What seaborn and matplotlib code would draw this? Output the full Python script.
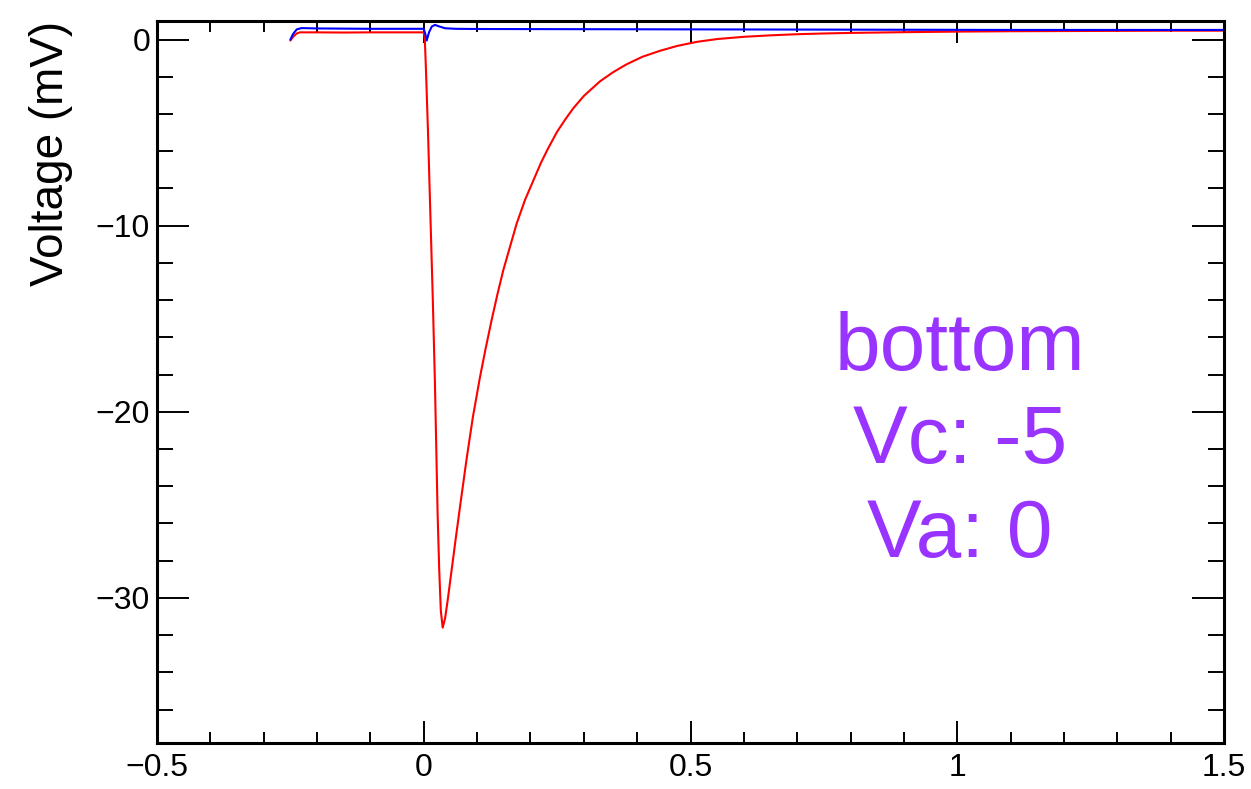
import matplotlib
matplotlib.use("Agg")
import matplotlib.pyplot as plt
import seaborn as sns
import pandas as pd
from matplotlib.ticker import MultipleLocator, FuncFormatter

# ---- data ----
red_time = [-0.250, -0.245, -0.238, -0.232, -0.20, -0.15, -0.10, -0.05, 0.0,
            0.002, 0.004, 0.008, 0.0125, 0.017, 0.021, 0.0235, 0.026, 0.029,
            0.032, 0.0355, 0.040, 0.045, 0.050, 0.055, 0.060, 0.068, 0.080,
            0.092, 0.105, 0.116, 0.127, 0.138, 0.149, 0.162, 0.174, 0.190,
            0.205, 0.220, 0.233, 0.250, 0.265, 0.280, 0.300, 0.330, 0.355,
            0.380, 0.410, 0.443, 0.475, 0.512, 0.55, 0.60, 0.65, 0.70, 0.75,
            0.80, 0.90, 1.0, 1.1, 1.2, 1.3, 1.4, 1.5]
red_volt = [-0.05, 0.15, 0.33, 0.39, 0.39, 0.38, 0.39, 0.39, 0.39,
            0.0, -1.5, -5.0, -9.5, -14.0, -18.5, -22.0, -25.5, -28.5,
            -30.7, -31.6, -31.1, -30.1, -29.0, -27.9, -26.8, -25.1, -22.6,
            -20.3, -18.2, -16.6, -15.1, -13.7, -12.4, -11.1, -9.9, -8.6,
            -7.6, -6.6, -5.85, -4.95, -4.3, -3.7, -3.03, -2.25, -1.75,
            -1.33, -0.92, -0.60, -0.34, -0.12, 0.03, 0.15, 0.23, 0.29, 0.33,
            0.36, 0.40, 0.43, 0.45, 0.46, 0.47, 0.48, 0.48]

blue_time = [-0.250, -0.245, -0.238, -0.229, -0.20, -0.10, 0.0, 0.003, 0.0055,
             0.010, 0.015, 0.021, 0.030, 0.040, 0.06, 0.1, 0.3, 0.5, 0.7, 0.9,
             1.1, 1.3, 1.5]
blue_volt = [0.0, 0.30, 0.55, 0.62, 0.60, 0.58, 0.58, 0.30, -0.05,
             0.40, 0.70, 0.79, 0.70, 0.61, 0.58, 0.57, 0.56, 0.55, 0.54, 0.53,
             0.52, 0.52, 0.52]

annotation_lines = ["bottom", "Vc: -5", "Va: 0"]
y_label = "Voltage (mV)"

# ---- style ----
sns.set_style("white")
plt.rcParams['font.family'] = ['Liberation Sans', 'DejaVu Sans']
plt.rcParams['axes.unicode_minus'] = True
for k in ("text.color", "axes.labelcolor", "xtick.color", "ytick.color",
          "axes.edgecolor"):
    plt.rcParams[k] = "black"

fig = plt.figure(figsize=(12.51, 7.89), dpi=100)
ax = fig.add_axes([157/1251, 1 - 743/789, (1224 - 157)/1251, (743 - 21)/789])

df_red = pd.DataFrame({"t": red_time, "v": red_volt})
df_blue = pd.DataFrame({"t": blue_time, "v": blue_volt})
sns.lineplot(data=df_red, x="t", y="v", color="#FF0000", lw=1.5, estimator=None,
             sort=False, ax=ax)
sns.lineplot(data=df_blue, x="t", y="v", color="#0000FF", lw=1.5, estimator=None,
             sort=False, ax=ax)

ax.set_xlim(-0.5, 1.5)
ax.set_ylim(-37.8, 1.0)

ax.xaxis.set_major_locator(MultipleLocator(0.5))
ax.xaxis.set_minor_locator(MultipleLocator(0.1))
ax.yaxis.set_major_locator(MultipleLocator(10))
ax.yaxis.set_minor_locator(MultipleLocator(2))

def fmt(v, pos):
    if abs(v) < 1e-9:
        return "0"
    return ("%g" % v).replace("-", "\u2212")

ax.xaxis.set_major_formatter(FuncFormatter(fmt))
ax.yaxis.set_major_formatter(FuncFormatter(fmt))

for sp in ax.spines.values():
    sp.set_visible(True)
    sp.set_linewidth(2.2)
    sp.set_color("black")

ax.tick_params(axis="x", which="major", direction="in", length=16, width=1.4,
               top=True, bottom=True, labelsize=23, pad=7, color="black")
ax.tick_params(axis="x", which="minor", direction="in", length=8, width=1.4,
               top=True, bottom=True)
ax.tick_params(axis="y", which="major", direction="in", length=23, width=1.4,
               left=True, right=True, labelsize=23, pad=5, color="black")
ax.tick_params(axis="y", which="minor", direction="in", length=11.5, width=1.4,
               left=True, right=True)

ax.set_xlabel("")
ax.set_ylabel(y_label, fontsize=33, ha="right")
ax.yaxis.set_label_coords(-0.079, 1.0)

ax.text(1.005, -21.65, "\n".join(annotation_lines), color="#9933FF", fontsize=59,
        ha="center", va="center", linespacing=1.29)

fig.savefig("out.png", dpi=100)
